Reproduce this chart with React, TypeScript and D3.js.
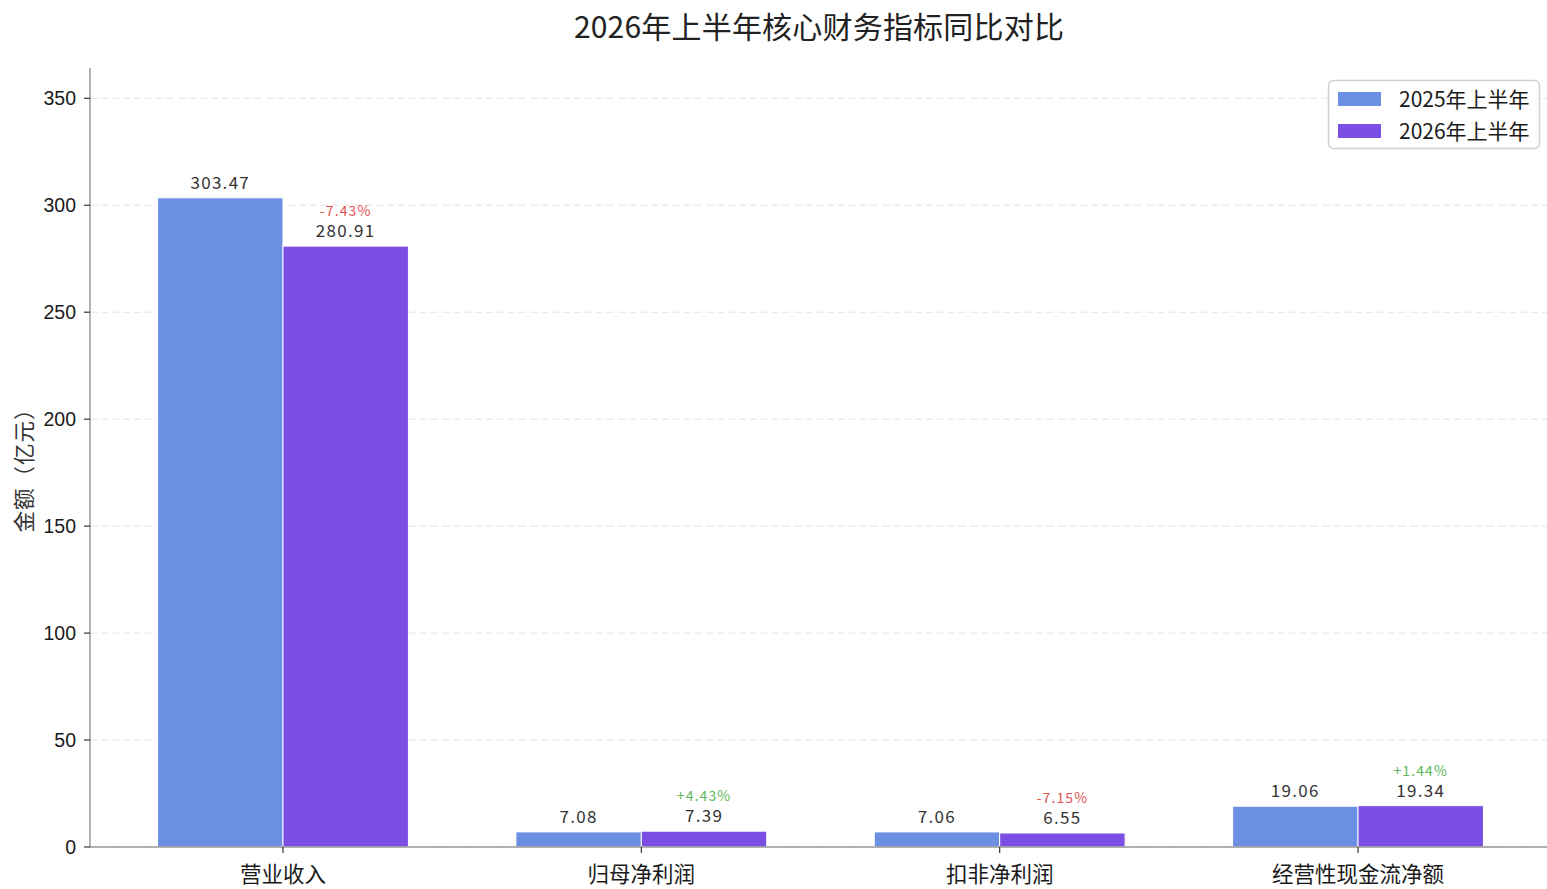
import React from "react";
import * as d3 from "d3";

const categories = ["营业收入", "归母净利润", "扣非净利润", "经营性现金流净额"];
const series2025 = [303.47, 7.08, 7.06, 19.06];
const series2026 = [280.91, 7.39, 6.55, 19.34];
const changeLabels = ["-7.43%", "+4.43%", "-7.15%", "+1.44%"];
const seriesNames = ["2025年上半年", "2026年上半年"];
const yTicks = [0, 50, 100, 150, 200, 250, 300, 350];

const W = 1547;
const H = 889;
const C1 = "#6B8FE3";
const C2 = "#7B4FE3";
const CJK = "'Noto Sans CJK SC', 'Noto Sans', sans-serif";
const NUM = "'Liberation Sans', Arial, sans-serif";

export default function App() {
  const axLeft = 90;
  const axRight = 1548;
  const axTop = 68;
  const axBottom = 847;

  const x = d3.scaleBand<string>().domain(categories).range([103.8, 1537.2]).padding(0);
  const bw = x.bandwidth();
  const barW = bw * 0.35;
  const yMax = d3.max(series2025.concat(series2026)) as number;
  const y = d3.scaleLinear().domain([0, yMax * 1.2]).range([axBottom, axTop]);
  const cx = (c: string) => (x(c) as number) + bw / 2;

  return (
    <div>
      <style>{`body{margin:0;background:#fff}`}</style>
      <svg width={W} height={H} style={{ display: "block" }}>
        <rect width={W} height={H} fill="#fff" />
        {/* grid */}
        {yTicks.map((t) => (
          <line key={"g" + t} x1={axLeft} x2={axRight} y1={y(t)} y2={y(t)} stroke="#e3e3e3" strokeWidth={1} strokeDasharray="7,4" />
        ))}
        {/* bars */}
        {categories.map((c, i) => (
          <g key={c}>
            <rect x={cx(c) - barW} y={y(series2025[i])} width={barW} height={axBottom - y(series2025[i])} fill={C1} stroke="#fff" strokeWidth={1} />
            <rect x={cx(c)} y={y(series2026[i])} width={barW} height={axBottom - y(series2026[i])} fill={C2} stroke="#fff" strokeWidth={1} />
            <text x={cx(c) - barW / 2} y={y(series2025[i]) - 9} textAnchor="middle" fontFamily={CJK} fontSize={17} letterSpacing={1.3} fill="#333">
              {series2025[i].toFixed(2)}
            </text>
            <text x={cx(c) + barW / 2} y={y(series2026[i]) - 9} textAnchor="middle" fontFamily={CJK} fontSize={17} letterSpacing={1.3} fill="#333">
              {series2026[i].toFixed(2)}
            </text>
            <text x={cx(c) + barW / 2} y={y(series2026[i]) - 30} textAnchor="middle" fontFamily={CJK} fontSize={14} letterSpacing={1.1} fill={changeLabels[i].startsWith("-") ? "#E25454" : "#5CB85C"}>
              {changeLabels[i]}
            </text>
          </g>
        ))}
        {/* spines */}
        <line x1={axLeft} x2={axLeft} y1={axTop} y2={axBottom} stroke="#999" strokeWidth={1.5} />
        <line x1={axLeft} x2={axRight} y1={axBottom} y2={axBottom} stroke="#999" strokeWidth={1.5} />
        {/* y ticks */}
        {yTicks.map((t) => (
          <g key={"t" + t}>
            <line x1={axLeft - 6} x2={axLeft} y1={y(t)} y2={y(t)} stroke="#333" strokeWidth={1.2} />
            <text x={axLeft - 14} y={y(t)} textAnchor="end" dominantBaseline="central" fontFamily={NUM} fontSize={19.5} fill="#1a1a1a">
              {t}
            </text>
          </g>
        ))}
        {/* x ticks */}
        {categories.map((c) => (
          <g key={"xt" + c}>
            <line x1={cx(c)} x2={cx(c)} y1={axBottom} y2={axBottom + 6} stroke="#333" strokeWidth={1.2} />
            <text x={cx(c)} y={872} textAnchor="middle" dominantBaseline="central" fontFamily={CJK} fontSize={21.5} fill="#1a1a1a">
              {c}
            </text>
          </g>
        ))}
        {/* y label */}
        <text transform={`translate(22, 465) rotate(-90)`} textAnchor="middle" dominantBaseline="central" fontFamily={CJK} fontSize={21.5} letterSpacing={1} fill="#333">
          金额（亿元）
        </text>
        {/* title */}
        <text x={(axLeft + axRight) / 2} y={25} textAnchor="middle" dominantBaseline="central" fontFamily={CJK} fontSize={30} letterSpacing={0.2} fill="#222">
          2026年上半年核心财务指标同比对比
        </text>
        {/* legend */}
        <g>
          <rect x={1328.5} y={80.5} width={211} height={68} rx={5} fill="#fff" fillOpacity={0.9} stroke="#d0d0d0" strokeWidth={1.5} />
          {seriesNames.map((n, i) => (
            <g key={n}>
              <rect x={1338} y={92 + i * 32} width={43} height={14} fill={i === 0 ? C1 : C2} />
              <text x={1399} y={98 + i * 32} dominantBaseline="central" fontFamily={CJK} fontSize={21} fill="#1a1a1a">
                {n}
              </text>
            </g>
          ))}
        </g>
      </svg>
    </div>
  );
}
